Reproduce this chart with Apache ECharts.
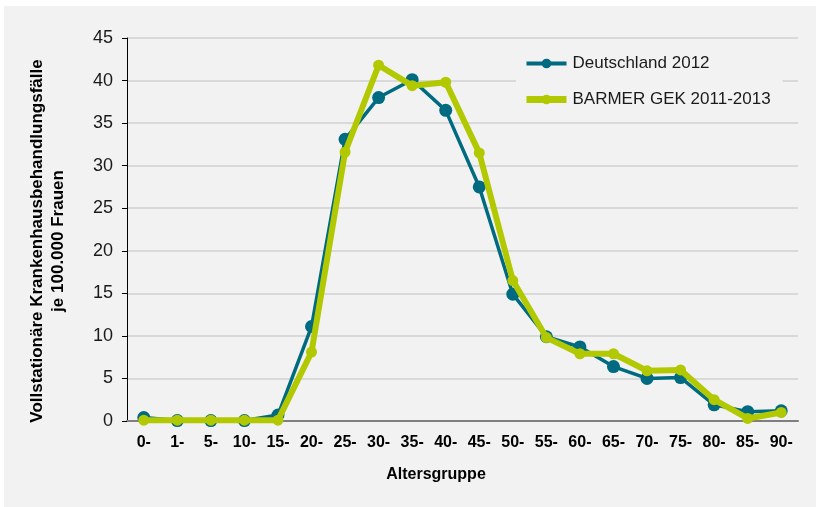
<!DOCTYPE html>
<html lang="de">
<head>
    <meta charset="UTF-8">
    <script src="https://cdn.jsdelivr.net/npm/echarts@6/dist/echarts.min.js"></script>
    <style>
        html, body {
            margin: 0;
            overflow: hidden;
            background: #ffffff;
        }
        #viewport {
            position: absolute;
            left: 4px;
            top: 6px;
            width: 812px;
            height: 501px;
            background: #f2f2f2;
        }
    </style>
</head>
<body>
<div id="viewport"></div>
<script>
    var ageGroups = ['0-', '1-', '5-', '10-', '15-', '20-', '25-', '30-', '35-', '40-',
        '45-', '50-', '55-', '60-', '65-', '70-', '75-', '80-', '85-', '90-'];
    var deutschland2012 = [0.4, 0.05, 0.05, 0.05, 0.7, 11.1, 33.1, 38.0, 40.1, 36.5,
        27.5, 14.9, 9.9, 8.7, 6.4, 5.0, 5.1, 1.9, 1.1, 1.2];
    var barmer2011_2013 = [0.1, 0.1, 0.1, 0.1, 0.1, 8.1, 31.6, 41.8, 39.4, 39.8,
        31.5, 16.5, 9.8, 7.9, 7.9, 5.9, 6.0, 2.5, 0.3, 1.0];

    var font = 'Liberation Sans, Arial, sans-serif';
    var teal = '#006b80';
    var green = '#b2c800';

    var myChart = echarts.init(document.getElementById('viewport'));

    var option = {
        animation: false,
        textStyle: { fontFamily: font },
        grid: { left: 123, right: 18, top: 32, bottom: 86 },
        legend: {
            orient: 'vertical',
            left: 512,
            top: 44,
            padding: [5, 12, 6, 7],
            itemGap: 19,
            itemWidth: 40,
            itemHeight: 12,
            backgroundColor: '#f2f2f2',
            textStyle: { fontSize: 17, color: '#1a1a1a', padding: [0, 0, 0, 1] },
            data: [
                { name: 'Deutschland 2012', lineStyle: { width: 4 } },
                { name: 'BARMER GEK 2011-2013', lineStyle: { width: 7 } }
            ]
        },
        graphic: [{
            type: 'text',
            x: 432,
            y: 469,
            style: {
                text: 'Altersgruppe',
                fontSize: 16,
                fontWeight: 'bold',
                fill: '#000',
                align: 'center',
                verticalAlign: 'middle',
                fontFamily: font
            }
        }, {
            type: 'text',
            x: 44,
            y: 235,
            rotation: Math.PI / 2,
            style: {
                text: 'Vollstationäre Krankenhausbehandlungsfälle\nje 100.000 Frauen',
                fontSize: 17,
                lineHeight: 21,
                fontWeight: 'bold',
                fill: '#000',
                align: 'center',
                verticalAlign: 'middle',
                fontFamily: font
            }
        }],
        xAxis: {
            type: 'category',
            data: ageGroups,
            boundaryGap: true,
            axisLine: { lineStyle: { color: '#7f7f7f', width: 2 } },
            axisTick: { show: false },
            axisLabel: { fontSize: 16, fontWeight: 'bold', color: '#000', margin: 14, interval: 0 }
        },
        yAxis: {
            type: 'value',
            min: 0,
            max: 45,
            interval: 5,
            axisLine: { show: true, lineStyle: { color: '#000', width: 1 } },
            axisTick: { show: true, length: 5, lineStyle: { color: '#000' } },
            axisLabel: { fontSize: 18, color: '#1a1a1a', margin: 14 },
            splitLine: { lineStyle: { color: '#d9d9d9', width: 2 } }
        },
        series: [{
            name: 'Deutschland 2012',
            type: 'line',
            data: deutschland2012,
            symbol: 'circle',
            symbolSize: 13,
            color: teal,
            lineStyle: { width: 3.5, color: teal },
            itemStyle: { color: teal },
            z: 2
        }, {
            name: 'BARMER GEK 2011-2013',
            type: 'line',
            data: barmer2011_2013,
            symbol: 'circle',
            symbolSize: 11,
            color: green,
            lineStyle: { width: 6, color: green },
            itemStyle: { color: green },
            z: 3
        }]
    };

    myChart.setOption(option);
</script>
</body>
</html>
